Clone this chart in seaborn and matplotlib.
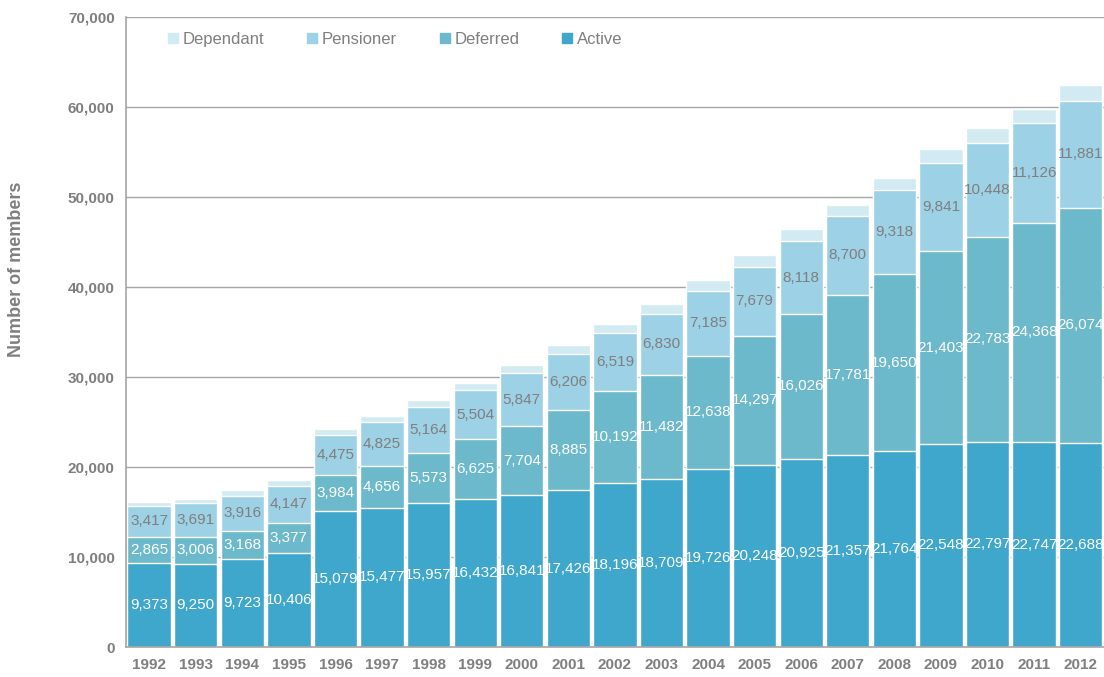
import numpy as np
import pandas as pd
import matplotlib
matplotlib.use('Agg')
import matplotlib.pyplot as plt
from matplotlib.patches import Patch
import seaborn as sns

# ── data ──────────────────────────────────────────────────────────────────────
YEARS = [str(y) for y in range(1992, 2013)]
ACTIVE = [9373, 9250, 9723, 10406, 15079, 15477, 15957, 16432, 16841, 17426, 18196,
          18709, 19726, 20248, 20925, 21357, 21764, 22548, 22797, 22747, 22688]
DEFERRED = [2865, 3006, 3168, 3377, 3984, 4656, 5573, 6625, 7704, 8885, 10192,
            11482, 12638, 14297, 16026, 17781, 19650, 21403, 22783, 24368, 26074]
PENSIONER = [3417, 3691, 3916, 4147, 4475, 4825, 5164, 5504, 5847, 6206, 6519,
             6830, 7185, 7679, 8118, 8700, 9318, 9841, 10448, 11126, 11881]
# dependant values are not labelled on the chart
DEPENDANT = [420, 480, 600, 620, 720, 740, 720, 800, 950, 980, 1000,
             1050, 1170, 1350, 1300, 1280, 1380, 1550, 1560, 1560, 1750]

SERIES = ['Active', 'Deferred', 'Pensioner', 'Dependant']
COLORS = {'Active': '#3FA6CC', 'Deferred': '#6CB9CB',
          'Pensioner': '#9CD1E6', 'Dependant': '#D2EAF2'}
LABEL_COL = {'Active': 'white', 'Deferred': 'white', 'Pensioner': '#7F7F7F'}
GREY = '#7F7F7F'

df = pd.DataFrame({'year': YEARS, 'Active': ACTIVE, 'Deferred': DEFERRED,
                   'Pensioner': PENSIONER, 'Dependant': DEPENDANT})
cum = df[SERIES].cumsum(axis=1)
bottoms = cum - df[SERIES]

sns.set_style('white')
plt.rcParams['font.family'] = ['Liberation Sans', 'DejaVu Sans']

fig = plt.figure(figsize=(11.04, 6.77), dpi=100)
ax = fig.add_axes([0.114, 0.0443, 0.886, 0.931])

# draw cumulative totals from the top layer down so each segment shows
for s in reversed(SERIES):
    sns.barplot(x=df['year'], y=cum[s], color=COLORS[s], width=0.93,
                saturation=1, ax=ax, zorder=2)

for s in ['Active', 'Deferred', 'Pensioner']:
    for i, v in enumerate(df[s]):
        ax.text(i, bottoms[s][i] + v / 2, f'{v:,}', ha='center', va='center',
                fontsize=11, color=LABEL_COL[s], zorder=3)

ax.set_ylim(0, 70000)
ax.set_xlim(-0.5, len(YEARS) - 0.5)
ax.set_yticks(np.arange(0, 70001, 10000))
ax.yaxis.set_major_formatter(matplotlib.ticker.FuncFormatter(lambda v, p: f'{int(v):,}'))
ax.grid(axis='y', color='#A6A6A6', lw=1, zorder=0)
ax.set_axisbelow(True)
for sp in ['top', 'right']:
    ax.spines[sp].set_visible(False)
for sp in ['left', 'bottom']:
    ax.spines[sp].set_color('#A6A6A6')
    ax.spines[sp].set_linewidth(1.2)

ax.tick_params(axis='both', length=0, labelsize=11, labelcolor=GREY, pad=8)
for lab in ax.get_xticklabels() + ax.get_yticklabels():
    lab.set_fontweight('bold')
ax.set_xlabel('')
ax.set_ylabel('Number of members', fontsize=13, fontweight='bold', color=GREY)
ax.yaxis.set_label_coords(-0.103, 0.60)

handles = [Patch(color=COLORS[s]) for s in ['Dependant', 'Pensioner', 'Deferred', 'Active']]
leg = ax.legend(handles, ['Dependant', 'Pensioner', 'Deferred', 'Active'], ncol=4,
                loc='upper left', bbox_to_anchor=(0.028, 1.0), frameon=False,
                fontsize=12, handlelength=0.6, handleheight=0.6, handletextpad=0.25,
                columnspacing=2.6)
for t in leg.get_texts():
    t.set_color(GREY)

fig.savefig('out.png', dpi=100)
